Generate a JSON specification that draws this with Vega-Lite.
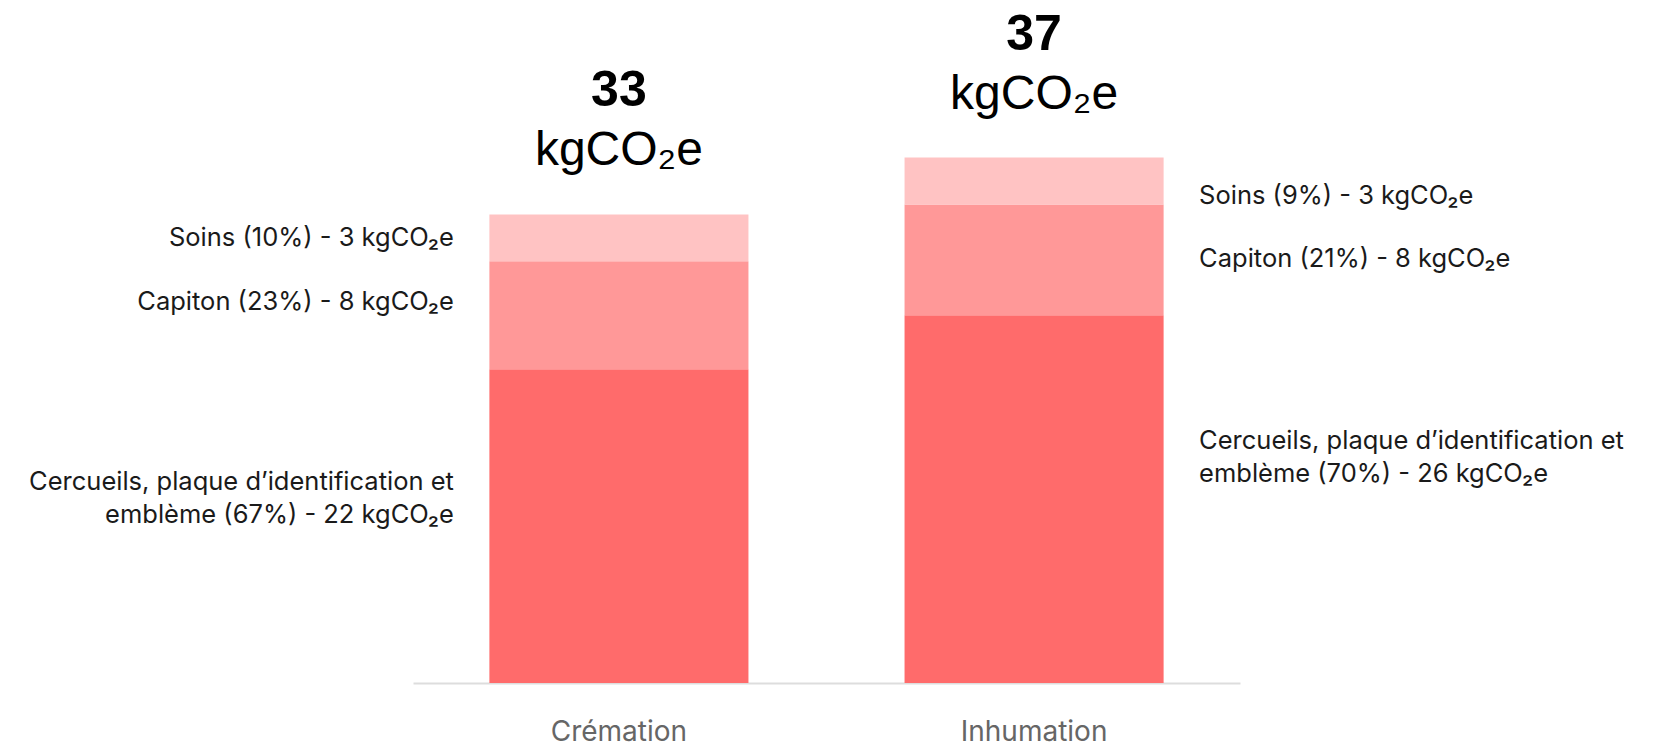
{
  "$schema": "https://vega.github.io/schema/vega-lite/v6.json",
  "width": 827,
  "height": 568,
  "autosize": {"type": "none"},
  "padding": {"left": 413, "top": 115, "right": 419, "bottom": 59},
  "background": "white",
  "config": {"view": {"stroke": null}, "text": {"lineBreak": "\n"}},
  "data": {
    "values": [
      {"category": "Crémation", "segment": "Cercueils", "order": 1, "value": 22.1, "label": "Cercueils, plaque d’identification et\nemblème (67%) - 22 kgCO₂e"},
      {"category": "Crémation", "segment": "Capiton", "order": 2, "value": 7.6, "label": "Capiton (23%) - 8 kgCO₂e"},
      {"category": "Crémation", "segment": "Soins", "order": 3, "value": 3.3, "label": "Soins (10%) - 3 kgCO₂e"},
      {"category": "Inhumation", "segment": "Cercueils", "order": 1, "value": 25.9, "label": "Cercueils, plaque d’identification et\nemblème (70%) - 26 kgCO₂e"},
      {"category": "Inhumation", "segment": "Capiton", "order": 2, "value": 7.8, "label": "Capiton (21%) - 8 kgCO₂e"},
      {"category": "Inhumation", "segment": "Soins", "order": 3, "value": 3.3, "label": "Soins (9%) - 3 kgCO₂e"}
    ]
  },
  "transform": [
    {"stack": "value", "groupby": ["category"], "sort": [{"field": "order", "order": "ascending"}], "as": ["v0", "v1"]},
    {"joinaggregate": [{"op": "sum", "field": "value", "as": "total"}], "groupby": ["category"]}
  ],
  "encoding": {
    "x": {
      "field": "category",
      "type": "nominal",
      "sort": ["Crémation", "Inhumation"],
      "scale": {"paddingInner": 0.376, "paddingOuter": 0.184},
      "axis": {
        "title": null,
        "labelAngle": 0,
        "ticks": false,
        "domainColor": "#dddddd",
        "domainWidth": 2,
        "labelFont": "Inter",
        "labelFontSize": 28,
        "labelColor": "#666666",
        "labelBaseline": "alphabetic",
        "labelPadding": 57
      }
    },
    "y": {"field": "v1", "type": "quantitative", "scale": {"domain": [0, 40], "nice": false}, "axis": null}
  },
  "layer": [
    {
      "mark": {"type": "bar"},
      "encoding": {
        "y2": {"field": "v0"},
        "color": {
          "field": "segment",
          "type": "nominal",
          "scale": {"domain": ["Cercueils", "Capiton", "Soins"], "range": ["#ff6b6b", "#ff9898", "#ffc3c3"]},
          "legend": null
        }
      }
    },
    {
      "transform": [{"filter": "datum.category === 'Crémation' && datum.segment === 'Soins'"}],
      "mark": {"type": "text", "align": "right", "baseline": "middle", "dx": -165, "dy": 24, "font": "Inter", "fontSize": 25.5, "color": "#1a1a1a"},
      "encoding": {"text": {"field": "label"}}
    },
    {
      "transform": [{"filter": "datum.category === 'Crémation' && datum.segment === 'Capiton'"}],
      "mark": {"type": "text", "align": "right", "baseline": "middle", "dx": -165, "dy": 41, "font": "Inter", "fontSize": 25.5, "color": "#1a1a1a"},
      "encoding": {"text": {"field": "label"}}
    },
    {
      "transform": [{"filter": "datum.category === 'Crémation' && datum.segment === 'Cercueils'"}],
      "mark": {"type": "text", "align": "right", "baseline": "middle", "dx": -165, "dy": 113, "lineHeight": 33, "font": "Inter", "fontSize": 25.5, "color": "#1a1a1a"},
      "encoding": {"text": {"field": "label"}}
    },
    {
      "transform": [{"filter": "datum.category === 'Inhumation' && datum.segment === 'Soins'"}],
      "mark": {"type": "text", "align": "left", "baseline": "middle", "dx": 165, "dy": 38, "font": "Inter", "fontSize": 25.5, "color": "#1a1a1a"},
      "encoding": {"text": {"field": "label"}}
    },
    {
      "transform": [{"filter": "datum.category === 'Inhumation' && datum.segment === 'Capiton'"}],
      "mark": {"type": "text", "align": "left", "baseline": "middle", "dx": 165, "dy": 55, "font": "Inter", "fontSize": 25.5, "color": "#1a1a1a"},
      "encoding": {"text": {"field": "label"}}
    },
    {
      "transform": [{"filter": "datum.category === 'Inhumation' && datum.segment === 'Cercueils'"}],
      "mark": {"type": "text", "align": "left", "baseline": "middle", "dx": 165, "dy": 126, "lineHeight": 33, "font": "Inter", "fontSize": 25.5, "color": "#1a1a1a"},
      "encoding": {"text": {"field": "label"}}
    },
    {
      "transform": [{"filter": "datum.segment === 'Soins'"}],
      "mark": {"type": "text", "align": "center", "baseline": "alphabetic", "dy": -108, "font": "Liberation Sans", "fontWeight": "bold", "fontSize": 50, "color": "#000000"},
      "encoding": {"text": {"field": "total", "type": "quantitative", "format": ".0f"}}
    },
    {
      "transform": [{"filter": "datum.segment === 'Soins'"}],
      "mark": {"type": "text", "align": "center", "baseline": "alphabetic", "dy": -49, "font": "Liberation Sans", "fontSize": 48, "color": "#000000"},
      "encoding": {"text": {"value": "kgCO₂e"}}
    }
  ]
}
